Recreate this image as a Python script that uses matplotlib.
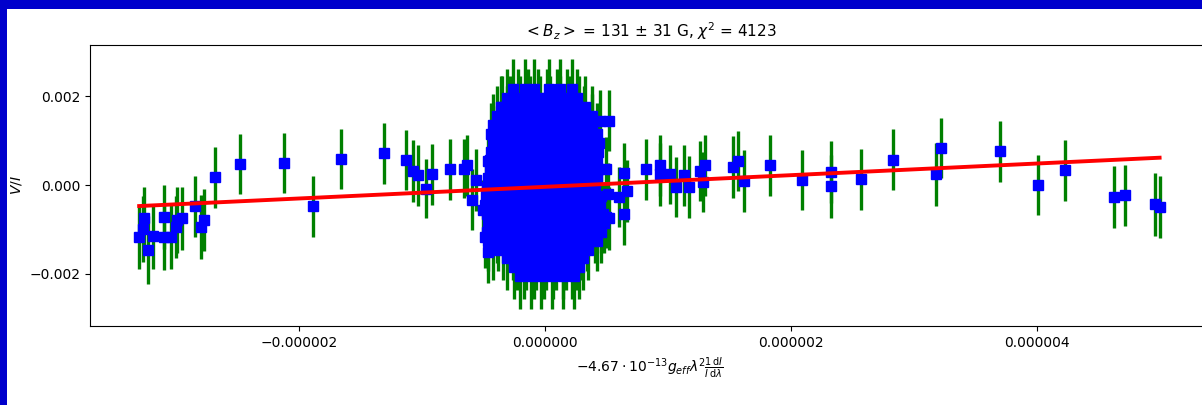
import numpy as np
import matplotlib
matplotlib.use("Agg")
import matplotlib.pyplot as plt
import matplotlib.ticker as mticker
from matplotlib.patches import Rectangle

plt.rcParams["font.family"] = "DejaVu Sans"
plt.rcParams["font.size"] = 10
plt.rcParams["mathtext.fontset"] = "dejavusans"

# scattered points, x in 1e-6, V/I and errors in 1e-3
wing_x = [-3.30, -3.27, -3.26, -3.23, -3.19, -3.10, -3.10, -3.04, -3.00, -2.99,
          -2.95, -2.85, -2.80, -2.77, -2.68, -2.48, -2.12, -1.89, -1.66, -1.31,
          -1.13, -1.07, -1.03, -0.97, -0.92, -0.77, -0.66, -0.63, -0.56, -0.59,
          -0.50, -0.49, -0.46, -0.45, -0.39, -0.35,
          0.45, 0.52, 0.50, 0.51, 0.50, 0.52, 0.64, 0.60, 0.67, 0.64,
          0.82, 0.94, 0.94, 1.02, 1.07, 1.13, 1.17, 1.26, 1.30, 1.29,
          1.53, 1.57, 1.62, 1.83, 2.09, 2.33, 2.33, 2.57, 2.83, 3.18,
          3.22, 3.70, 4.01, 4.23, 4.63, 4.72, 4.96, 5.00]
wing_y = [-1.16, -0.98, -0.75, -1.46, -1.15, -0.72, -1.16, -1.16, -0.94, -0.79,
          -0.75, -0.48, -0.94, -0.79, 0.17, 0.47, 0.50, -0.48, 0.59, 0.71,
          0.57, 0.32, 0.22, -0.08, 0.24, 0.35, 0.37, 0.44, 0.11, -0.33,
          -0.57, -1.16, -1.50, 0.57, 1.08, 1.75,
          1.45, 1.45, 0.37, -0.19, -0.72, -0.75, 0.27, -0.27, -0.13, -0.64,
          0.35, 0.44, 0.24, 0.24, -0.04, 0.22, -0.04, 0.32, 0.44, 0.07,
          0.41, 0.54, 0.09, 0.44, 0.11, 0.29, -0.03, 0.13, 0.57, 0.24,
          0.83, 0.76, 0.00, 0.33, -0.27, -0.23, -0.43, -0.50]
wing_err = [0.72, 0.74, 0.70, 0.76, 0.73, 0.71, 0.75, 0.72, 0.70, 0.74,
            0.71, 0.69, 0.72, 0.70, 0.68, 0.67, 0.68, 0.69, 0.68, 0.69,
            0.67, 0.70, 0.68, 0.66, 0.69, 0.68, 0.67, 0.69, 0.70, 0.68,
            0.69, 0.70, 0.71, 0.68, 0.69, 0.70,
            0.68, 0.69, 0.70, 0.68, 0.69, 0.70, 0.68, 0.67, 0.69, 0.70,
            0.68, 0.69, 0.70, 0.67, 0.68, 0.69, 0.70, 0.68, 0.69, 0.67,
            0.70, 0.68, 0.69, 0.68, 0.68, 0.69, 0.70, 0.68, 0.69, 0.70,
            0.68, 0.69, 0.68, 0.69, 0.70, 0.68, 0.71, 0.70]

# dense cloud around zero, one row per V/I level
core_y_rows = [2.15, 1.95, 1.75, 1.55, 1.35, 1.15, 0.95, 0.75, 0.55, 0.35, 0.15,
               -0.05, -0.25, -0.45, -0.65, -0.85, -1.05, -1.25, -1.45, -1.65, -1.85, -2.05]
core_err_rows = [0.68, 0.66, 0.70, 0.67, 0.69, 0.70, 0.66, 0.68, 0.70, 0.67, 0.69,
                 0.68, 0.70, 0.66, 0.69, 0.67, 0.70, 0.68, 0.69, 0.70, 0.72, 0.74]
core_x_rows = [
    [-0.26, -0.16, -0.09, 0.03, 0.12, 0.22],
    [-0.31, -0.22, -0.14, -0.06, 0.02, 0.10, 0.18, 0.26],
    [-0.36, -0.28, -0.20, -0.12, -0.04, 0.04, 0.12, 0.20, 0.28, 0.33],
    [-0.39, -0.31, -0.23, -0.15, -0.07, 0.01, 0.09, 0.17, 0.25, 0.32, 0.38],
    [-0.42, -0.34, -0.26, -0.18, -0.10, -0.02, 0.06, 0.14, 0.22, 0.30, 0.38],
    [-0.44, -0.36, -0.28, -0.20, -0.12, -0.04, 0.04, 0.12, 0.20, 0.28, 0.36, 0.42],
    [-0.42, -0.34, -0.26, -0.18, -0.10, -0.02, 0.06, 0.14, 0.22, 0.30, 0.38, 0.44],
    [-0.44, -0.36, -0.28, -0.20, -0.12, -0.04, 0.04, 0.12, 0.20, 0.28, 0.36, 0.43],
    [-0.46, -0.38, -0.30, -0.22, -0.14, -0.06, 0.02, 0.10, 0.18, 0.26, 0.34, 0.42],
    [-0.45, -0.37, -0.29, -0.21, -0.13, -0.05, 0.03, 0.11, 0.19, 0.27, 0.35, 0.43],
    [-0.46, -0.38, -0.30, -0.22, -0.14, -0.06, 0.02, 0.10, 0.18, 0.26, 0.34, 0.42],
    [-0.47, -0.39, -0.31, -0.23, -0.15, -0.07, 0.01, 0.09, 0.17, 0.25, 0.33, 0.41],
    [-0.48, -0.40, -0.32, -0.24, -0.16, -0.08, 0.00, 0.08, 0.16, 0.24, 0.32, 0.40, 0.46],
    [-0.49, -0.41, -0.33, -0.25, -0.17, -0.09, -0.01, 0.07, 0.15, 0.23, 0.31, 0.39, 0.45],
    [-0.47, -0.39, -0.31, -0.23, -0.15, -0.07, 0.01, 0.09, 0.17, 0.25, 0.33, 0.41, 0.47],
    [-0.46, -0.38, -0.30, -0.22, -0.14, -0.06, 0.02, 0.10, 0.18, 0.26, 0.34, 0.42, 0.48],
    [-0.47, -0.39, -0.31, -0.23, -0.15, -0.07, 0.01, 0.09, 0.17, 0.25, 0.33, 0.41, 0.46],
    [-0.46, -0.38, -0.30, -0.22, -0.14, -0.06, 0.02, 0.10, 0.18, 0.26, 0.34, 0.42],
    [-0.42, -0.34, -0.26, -0.18, -0.10, -0.02, 0.06, 0.14, 0.22, 0.29, 0.35],
    [-0.31, -0.23, -0.15, -0.07, 0.01, 0.09, 0.17, 0.25, 0.31],
    [-0.25, -0.17, -0.09, -0.01, 0.07, 0.15, 0.22, 0.28],
    [-0.20, -0.11, -0.03, 0.06, 0.15, 0.24],
]

bz = 131
bz_err = 31
chi2 = 4123
v_offset = -4.0e-5

core_x, core_y, core_err = [], [], []
for yv, ev, xs in zip(core_y_rows, core_err_rows, core_x_rows):
    core_x += xs
    core_y += [yv] * len(xs)
    core_err += [ev] * len(xs)

x = np.array(wing_x + core_x) * 1e-6
y = np.array(wing_y + core_y) * 1e-3
yerr = np.array(wing_err + core_err) * 1e-3

fig = plt.figure(figsize=(12.02, 4.05), dpi=100, facecolor="white")
# blue frame strips at top and left
fig.patches.append(Rectangle((0, 1 - 9 / 405), 1, 9 / 405, transform=fig.transFigure,
                             facecolor="#0000cc", edgecolor="none", zorder=-1))
fig.patches.append(Rectangle((0, 0), 7 / 1202, 1, transform=fig.transFigure,
                             facecolor="#0000cc", edgecolor="none", zorder=-1))

ax = fig.add_axes([90 / 1202, 79 / 405, 1120 / 1202, 281 / 405])
ax.errorbar(x, y, yerr=yerr, fmt="s", color="b", ms=7.5, ecolor="g", elinewidth=2.4,
            linestyle="none")
xl = np.array([x.min(), x.max()])
ax.plot(xl, bz * xl + v_offset, color="r", lw=2.8, zorder=4)

ax.set_xlim(-3.70e-6, 5.41e-6)
ax.set_ylim(-3.17e-3, 3.15e-3)
ax.set_xticks([-2e-6, 0, 2e-6, 4e-6])
ax.set_yticks([-2e-3, 0, 2e-3])
ax.xaxis.set_major_formatter(mticker.FuncFormatter(lambda v, p: f"{v:.6f}".replace("-", "\u2212")))
ax.yaxis.set_major_formatter(mticker.FuncFormatter(lambda v, p: f"{v:.3f}".replace("-", "\u2212")))

ax.set_title(r"$<B_z>$ = %d $\pm$ %d G, $\chi^2$ = %d" % (bz, bz_err, chi2), fontsize=11)
ax.set_xlabel(r"$-4.67\cdot10^{-13}g_{eff}\lambda^2\frac{1\,\mathrm{d}I}{I\,\mathrm{d}\lambda}$")
ax.set_ylabel(r"$V/I$")

fig.savefig("out.png", dpi=100, facecolor="white")
